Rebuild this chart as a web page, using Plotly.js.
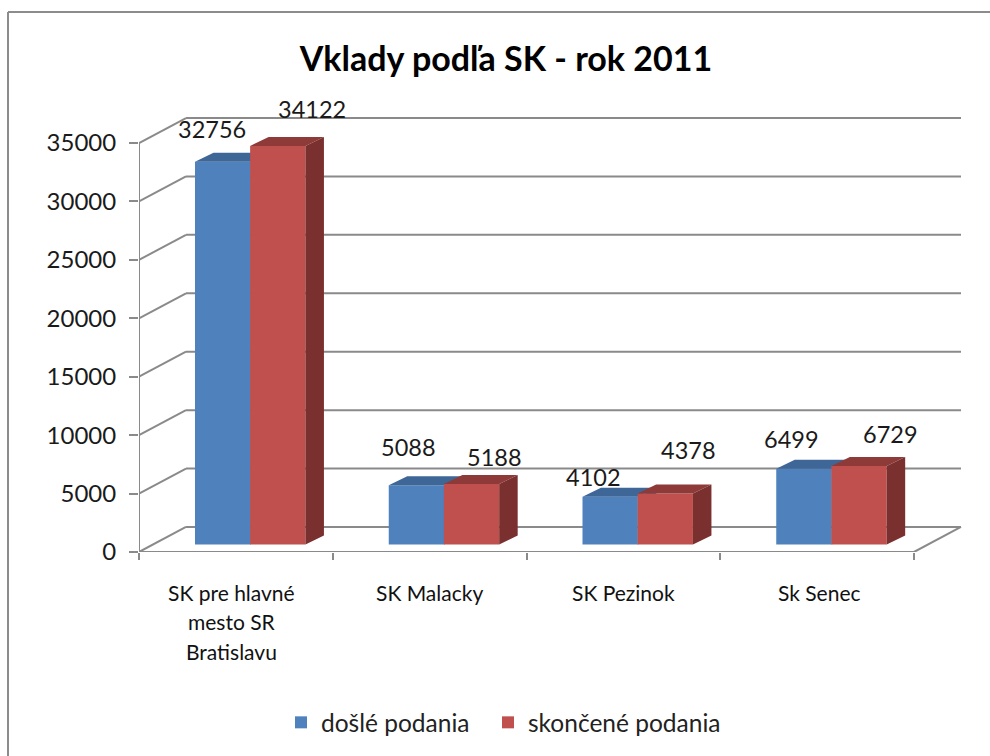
<!DOCTYPE html>
<html>
<head>
<meta charset="utf-8">
<script src="https://cdn.plot.ly/plotly-3.0.1.min.js"></script>
<style>html,body{margin:0;padding:0;background:#fff;overflow:hidden}#c{width:990px;height:756px}</style>
</head>
<body>
<div id="c"></div>
<script>
const categories = ["SK pre hlavné<br>mesto SR<br>Bratislavu", "SK Malacky", "SK Pezinok", "Sk Senec"];
const doslePodania = [32756, 5088, 4102, 6499];
const skoncenePodania = [34122, 5188, 4378, 6729];
const yTicks = [0, 5000, 10000, 15000, 20000, 25000, 30000, 35000];
const seriesNames = ["došlé podania", "skončené podania"];
const titleText = "Vklady podľa SK - rok 2011";

// page geometry
const W = 990, H = 756;
const left = 139, right = 972, top_ = 96, bottom = 551.7;
const pxPerCat = 193.75;
const pxPerUnit = (551.7 - 143) / 35000;
const xMax = (right - left) / pxPerCat;
const yMax = (bottom - top_) / pxPerUnit;
const px = p => p / pxPerCat;
const py = p => p / pxPerUnit;
const paperX = p => (p - left) / (right - left);
const paperY = p => (bottom - p) / (bottom - top_);

// 3D projection offsets
const wallDx = px(47), wallDy = py(25);
const barDx = px(18.5), barDy = py(9);
const barBase = py(7.4);
const barW = 0.2855;
const offsets = [-0.211, 0.0735];
const gridColor = "#8a8a8a";
const fontName = "Lato, 'Open Sans', sans-serif";

const xCenters = categories.map((_, i) => i + 0.5);

function line(xref, yref, x0, y0, x1, y1, color, width) {
  return {type: "line", xref, yref, x0, y0, x1, y1, layer: "below", line: {color: color || gridColor, width: width || 2}};
}
const shapes = [];
yTicks.forEach(v => {
  shapes.push(line("x", "y", 0, v, wallDx, v + wallDy));
  shapes.push(line("x", "y", wallDx, v + wallDy, categories.length + wallDx, v + wallDy));
});
shapes.push(line("x", "y", categories.length, 0, categories.length + wallDx, wallDy));
shapes.push(line("x", "y", 0, 0, categories.length, 0));
shapes.push(line("x", "y", 0, 0, 0, 35000));
// chart frame
shapes.push(line("paper", "paper", paperX(8), paperY(12), paperX(990), paperY(12), "#8c8c8c", 2));
shapes.push(line("paper", "paper", paperX(8), paperY(12), paperX(8), paperY(756), "#8c8c8c", 2));

function faces(values, off, topColor, sideColor, xa, ya) {
  const tx = [], ty = [], sx = [], sy = [];
  values.forEach((v, i) => {
    const x0 = xCenters[i] + off, x1 = x0 + barW, t = v + barBase;
    tx.push(x0, x0 + barDx, x1 + barDx, x1, x0, null);
    ty.push(t, t + barDy, t + barDy, t, t, null);
    sx.push(x1, x1 + barDx, x1 + barDx, x1, x1, null);
    sy.push(barBase, barBase + barDy, t + barDy, t, barBase, null);
  });
  const mk = (x, y, c) => ({type: "scatter", mode: "lines", x, y, xaxis: xa, yaxis: ya, fill: "toself",
    fillcolor: c, line: {width: 0, color: c}, hoverinfo: "skip", showlegend: false});
  return [mk(tx, ty, topColor), mk(sx, sy, sideColor)];
}
function bar(values, off, color, name, xa, ya, legend) {
  return {type: "bar", x: xCenters, y: values, base: values.map(() => barBase), width: barW, offset: off,
    xaxis: xa, yaxis: ya, name, legend, showlegend: true, marker: {color, line: {width: 0}}};
}
const data = [
  bar(doslePodania, offsets[0], "#4F81BD", seriesNames[0], "x", "y", "legend"),
  ...faces(doslePodania, offsets[0], "#3E6797", "#3E6797", "x", "y"),
  bar(skoncenePodania, offsets[1], "#C0504D", seriesNames[1], "x2", "y2", "legend2"),
  ...faces(skoncenePodania, offsets[1], "#8E3A38", "#7A302E", "x2", "y2")
];

// label placement relative to the bar top, in pixels
const blueLabelShift = [[-11, 33], [-8, 38], [-17, 20], [-12, 30]];
const redLabelShift = [[34, 37], [23, 27], [23, 43], [31, 32]];
const annotations = [];
function labels(values, off, shift) {
  values.forEach((v, i) => annotations.push({
    xref: "x", yref: "y", x: xCenters[i] + off + barW / 2, y: v + barBase,
    xshift: shift[i][0], yshift: shift[i][1], text: String(v), showarrow: false,
    xanchor: "center", yanchor: "middle", font: {family: fontName, size: 23.5, color: "#1a1a1a"}
  }));
}
labels(doslePodania, offsets[0], blueLabelShift);
labels(skoncenePodania, offsets[1], redLabelShift);

// category labels (Excel line spacing is wider than the default tick label spacing)
const catShift = [-4, 0, 0, 2];
categories.forEach((c, i) => c.split("<br>").forEach((t, k) => annotations.push({
  xref: "x", yref: "paper", x: xCenters[i], y: paperY(592 + 29.5 * k), xshift: catShift[i], text: t,
  showarrow: false, xanchor: "center", yanchor: "middle", font: {family: fontName, size: 21, color: "#111"}
})));

function legendAt(pageX) {
  return {orientation: "h", xref: "paper", yref: "paper", x: paperX(pageX), xanchor: "left", y: paperY(722), yanchor: "middle",
    font: {family: fontName, size: 24.5, color: "#222"}, bgcolor: "rgba(0,0,0,0)", itemclick: false, itemdoubleclick: false};
}

const layout = {
  width: W, height: H,
  margin: {l: left, r: W - right, t: top_, b: H - bottom, pad: 0, autoexpand: false},
  paper_bgcolor: "#fff", plot_bgcolor: "rgba(0,0,0,0)",
  font: {family: fontName, color: "#111"},
  barmode: "overlay",
  title: {text: "<b>" + titleText + "</b>", font: {family: fontName, size: 34, color: "#000"},
    x: 506 / W, xanchor: "center", y: 1 - 59 / H, yanchor: "middle"},
  xaxis: {range: [0, xMax], tickmode: "array", tickvals: [0, 1, 2, 3, 4], ticktext: ["", "", "", "", ""],
    ticks: "outside", ticklen: 7, tickwidth: 2, tickcolor: gridColor, showgrid: false, zeroline: false, showline: false, fixedrange: true},
  yaxis: {range: [0, yMax], tickmode: "array", tickvals: yTicks, ticktext: yTicks.map(String),
    ticks: "outside", ticklen: 9, tickwidth: 2, tickcolor: gridColor, ticklabelstandoff: 8, showgrid: false, zeroline: false, showline: false,
    tickfont: {family: fontName, size: 24, color: "#1a1a1a"}, fixedrange: true},
  xaxis2: {range: [0, xMax], overlaying: "x", visible: false, fixedrange: true},
  yaxis2: {range: [0, yMax], overlaying: "y", visible: false, fixedrange: true},
  legend: legendAt(281),
  legend2: legendAt(488),
  shapes, annotations, hovermode: false
};
Plotly.newPlot("c", data, layout, {displayModeBar: false, staticPlot: true});
</script>
</body>
</html>
